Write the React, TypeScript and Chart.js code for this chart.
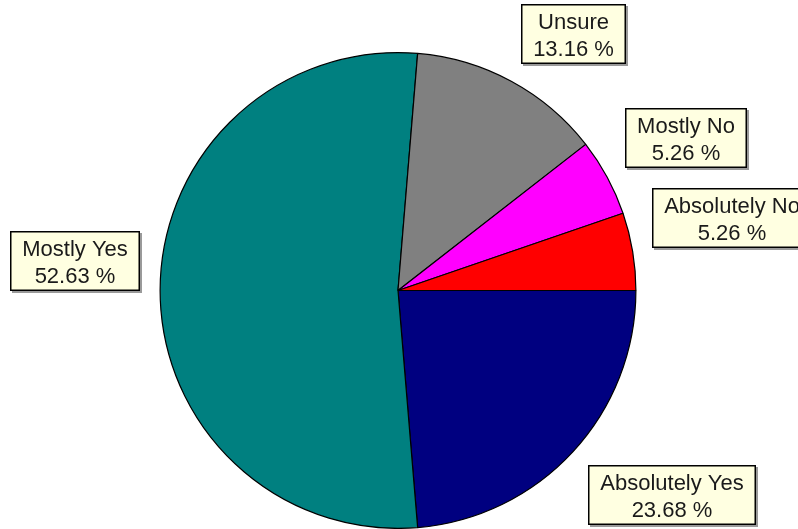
import React, { useEffect, useRef } from "react";
import { Chart, registerables } from "chart.js";

Chart.register(...registerables);

const categories = ["Absolutely Yes", "Mostly Yes", "Unsure", "Mostly No", "Absolutely No"];
const counts = [9, 20, 5, 2, 2];
const sliceColors = ["#000080", "#008080", "#808080", "#FF00FF", "#FF0000"];

const FONT = '22px "Liberation Sans", Arial, sans-serif';

const labelBoxes = {
  id: "labelBoxes",
  afterDraw(chart: any) {
    const ctx = chart.ctx as CanvasRenderingContext2D;
    const meta = chart.getDatasetMeta(0);
    const data = chart.data.datasets[0].data as number[];
    const total = data.reduce((a, b) => a + b, 0);
    ctx.save();
    ctx.font = FONT;
    meta.data.forEach((arc: any, i: number) => {
      const { x, y, startAngle, endAngle, outerRadius } = arc.getProps(
        ["x", "y", "startAngle", "endAngle", "outerRadius"],
        true
      );
      const mid = (startAngle + endAngle) / 2;
      const r = outerRadius + 20;
      const px = x + r * Math.cos(mid);
      const py = y + r * Math.sin(mid);
      const l1 = chart.data.labels[i] as string;
      const l2 = ((data[i] / total) * 100).toFixed(2) + " %";
      const tw = Math.max(ctx.measureText(l1).width, ctx.measureText(l2).width);
      const w = Math.round(tw + 24);
      const h = 60;
      const left = Math.cos(mid) >= 0 ? Math.round(px) : Math.round(px - w);
      const top = Math.sin(mid) > 0.05 ? Math.round(py) : Math.round(py - h);
      ctx.fillStyle = "#9a9a9a";
      ctx.fillRect(left + 2, top + 2, w, h);
      ctx.fillStyle = "#FFFFE1";
      ctx.fillRect(left, top, w, h);
      ctx.strokeStyle = "#000000";
      ctx.lineWidth = 1.5;
      ctx.strokeRect(left + 0.75, top + 0.75, w - 1.5, h - 1.5);
      ctx.fillStyle = "#1a1a1a";
      ctx.textAlign = "center";
      ctx.textBaseline = "alphabetic";
      const cx = left + w / 2;
      ctx.fillText(l1, cx, top + 25);
      ctx.fillText(l2, cx, top + 52);
    });
    ctx.restore();
  },
};

export default function App() {
  const ref = useRef<HTMLCanvasElement>(null);
  useEffect(() => {
    if (!ref.current) return;
    const chart = new Chart(ref.current, {
      type: "pie",
      data: {
        labels: categories,
        datasets: [
          {
            data: counts,
            backgroundColor: sliceColors,
            borderColor: "#000000",
            borderWidth: 1.2,
          },
        ],
      },
      options: {
        animation: false,
        responsive: true,
        maintainAspectRatio: false,
        rotation: 90,
        layout: { padding: { left: 159, right: 161, top: 52, bottom: 0 } },
        plugins: {
          legend: { display: false },
          tooltip: { enabled: false },
        },
      },
      plugins: [labelBoxes],
    });
    return () => chart.destroy();
  }, []);
  return (
    <div style={{ position: "fixed", left: 0, top: 0, width: 798, height: 529, background: "#fff" }}>
      <canvas ref={ref} />
    </div>
  );
}
